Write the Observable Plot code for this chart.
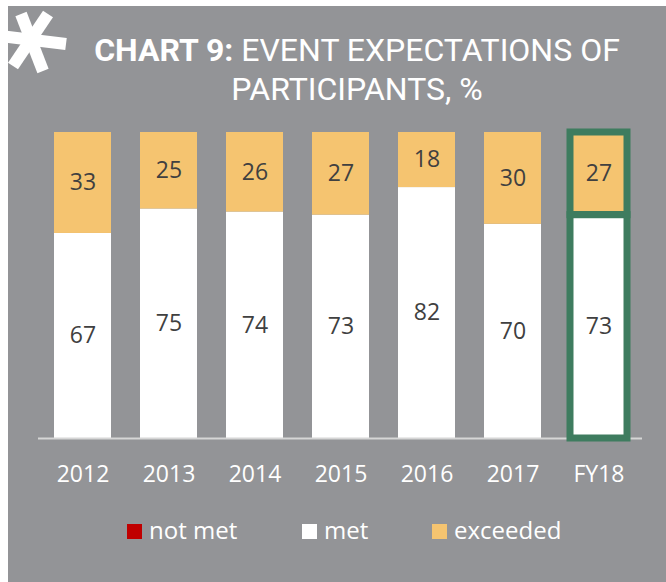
<!DOCTYPE html>
<html><head><meta charset="utf-8">
<script src="https://cdn.jsdelivr.net/npm/d3@7"></script>
<script src="https://cdn.jsdelivr.net/npm/@observablehq/plot@0.6"></script>
<style>
html,body{margin:0;padding:0;background:#fff;}
body{width:666px;height:582px;overflow:hidden;position:relative;font-family:"Open Sans",sans-serif;}
#panel{position:absolute;left:8px;top:6px;width:658px;height:576px;background:#939497;}
#star{position:absolute;left:0;top:0;}
#title{position:absolute;left:57px;top:31px;width:600px;text-align:center;color:#fff;
  font-family:"Liberation Sans Narrow","Roboto",sans-serif;font-size:32px;line-height:39px;white-space:nowrap;}
#title b{font-weight:700;}
#chart{position:absolute;left:0;top:110px;}
.lg-sw{position:absolute;top:524px;width:15px;height:15px;}
.lg-tx{position:absolute;top:518px;font-size:24px;line-height:24px;color:#fff;white-space:nowrap;}
</style></head><body>
<div id="panel"></div>
<svg id="star" width="80" height="85" viewBox="0 0 80 85">
  <g stroke="#fff" stroke-width="12" stroke-linecap="butt">
    <line x1="21" y1="14" x2="43" y2="71"/>
    <line x1="48" y1="14" x2="13" y2="66"/>
    <line x1="0" y1="36" x2="66" y2="44"/>
  </g>
</svg>
<div id="title"><b>CHART 9:</b> EVENT EXPECTATIONS OF<br>PARTICIPANTS, %</div>
<div id="chart"></div>
<div id="legend"></div>
<script>
const years = ["2012","2013","2014","2015","2016","2017","FY18"];
const notMet = [0,0,0,0,0,0,0];
const met = [67,75,74,73,82,70,73];
const exceeded = [33,25,26,27,18,30,27];
const types = ["not met","met","exceeded"];
const typeColors = ["#c00000","#ffffff","#f5c470"];
const highlightYear = "FY18";
const highlightColor = "#3e7c5f";

const data = years.flatMap((y,i)=>[
  {year:y,type:"not met",value:notMet[i]},
  {year:y,type:"met",value:met[i]},
  {year:y,type:"exceeded",value:exceeded[i]}
]);

const chart = Plot.plot({
  width:666, height:380,
  marginLeft:38, marginRight:24, marginTop:22, marginBottom:52,
  style:{background:"transparent", color:"#fff", fontFamily:"Open Sans, sans-serif"},
  x:{domain:years, paddingInner:0.34, paddingOuter:0.162, label:null},
  y:{domain:[0,100], axis:null},
  color:{domain:types, range:typeColors},
  marks:[
    Plot.barY(data, Plot.stackY({x:"year", y:"value", z:"type", fill:"type", filter:d=>d.value>0})),
    Plot.ruleY([0], {stroke:"#d6d6d6", strokeWidth:2}),
    Plot.barY(data, Plot.stackY({x:"year", y:"value", z:"type", filter:d=>d.year===highlightYear && d.value>0,
      fill:"none", stroke:highlightColor, strokeWidth:7})),
    Plot.text(data, Plot.stackY({x:"year", y:"value", z:"type", text:"value", filter:d=>d.value>0,
      fill:"#404040", fontSize:23})),
    Plot.axisX({tickSize:0, tickPadding:27, fontSize:23, fill:"#fff", label:null})
  ]
});
document.getElementById("chart").appendChild(chart);

const legendLefts = [127, 302, 432];
const lg = document.getElementById("legend");
types.forEach((t,i)=>{
  const sw = document.createElement("div");
  sw.className="lg-sw"; sw.style.left=legendLefts[i]+"px"; sw.style.background=typeColors[i];
  const tx = document.createElement("div");
  tx.className="lg-tx"; tx.style.left=(legendLefts[i]+22)+"px"; tx.textContent=t;
  lg.appendChild(sw); lg.appendChild(tx);
});
</script>
</body></html>
